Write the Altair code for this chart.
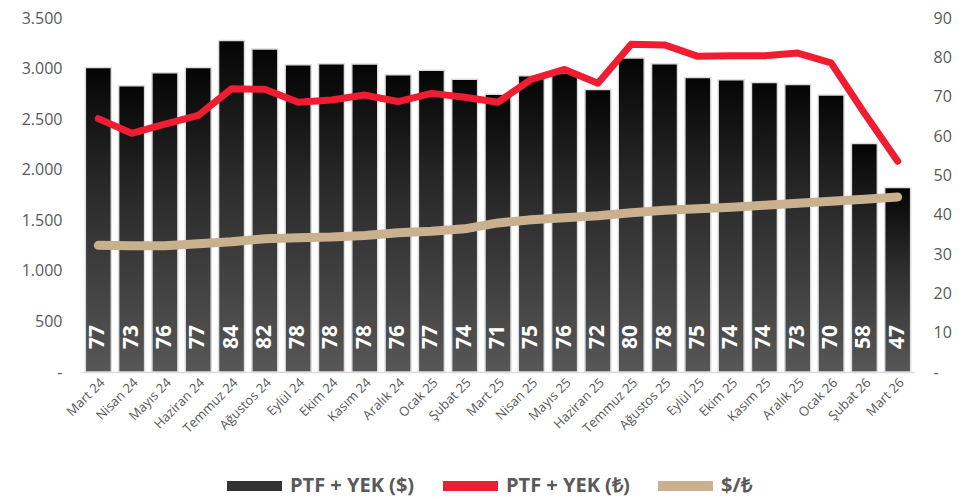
import altair as alt
import pandas as pd

months = ["Mart 24", "Nisan 24", "Mayıs 24", "Haziran 24", "Temmuz 24", "Ağustos 24",
          "Eylül 24", "Ekim 24", "Kasım 24", "Aralık 24", "Ocak 25", "Şubat 25",
          "Mart 25", "Nisan 25", "Mayıs 25", "Haziran 25", "Temmuz 25", "Ağustos 25",
          "Eylül 25", "Ekim 25", "Kasım 25", "Aralık 25", "Ocak 26", "Şubat 26", "Mart 26"]

ptf_usd = [77.4, 72.8, 76.1, 77.4, 84.3, 82.1, 78.1, 78.4, 78.3, 75.6, 76.7, 74.4,
           70.6, 75.3, 76.1, 71.8, 79.8, 78.4, 74.9, 74.3, 73.6, 73.1, 70.4, 58.1, 46.9]

ptf_tl = [2505, 2360, 2450, 2537, 2800, 2795, 2667, 2690, 2738, 2674, 2755, 2716,
          2667, 2894, 2991, 2855, 3240, 3234, 3121, 3127, 3127, 3153, 3056, 2560, 2084]

usd_try = [32.2, 32.1, 32.1, 32.6, 33.1, 33.9, 34.1, 34.3, 34.7, 35.4, 35.8, 36.4,
           37.9, 38.7, 39.2, 39.7, 40.5, 41.1, 41.5, 41.9, 42.4, 42.9, 43.4, 43.9, 44.5]

series = ["PTF + YEK ($)", "PTF + YEK (₺)", "$/₺"]
series_colors = ["#333333", "#ee1d32", "#c9b18f"]

df = pd.DataFrame({
    "month": months,
    "usd": ptf_usd,
    "tl": ptf_tl,
    "rate": usd_try,
    "s_tl": series[1],
    "s_rate": series[2],
})

FONT = "Open Sans"
GRAY = "#595959"

x_enc = alt.X("month:N", sort=months, title=None,
              scale=alt.Scale(paddingInner=0.22, paddingOuter=0.1),
              axis=alt.Axis(labelAngle=-45, labelFontSize=13, labelColor=GRAY, labelFont=FONT,
                            ticks=False, domainColor="#d9d9d9", domainWidth=1.5, labelPadding=4))

right_scale = alt.Scale(domain=[0, 90], nice=False)


def right_axis():
    return alt.Axis(orient="right", values=list(range(0, 91, 10)), grid=False, ticks=False,
                    domain=False, labelFontSize=16, labelColor=GRAY, labelFont=FONT,
                    labelPadding=19, labelOverlap=False,
                    labelExpr="datum.value === 0 ? '-' : datum.label")


color_scale = alt.Scale(domain=series, range=series_colors)
legend = alt.Legend(
    orient="none", legendX=140, legendY=458, direction="horizontal", columns=3,
    title=None, labelFontSize=20, labelFontWeight="bold", labelColor=GRAY, labelFont=FONT,
    symbolType="M-1,0L10,0", symbolSize=100, labelOffset=48, columnPadding=8,
    symbolOpacity=1, symbolStrokeWidth=10,
)

gradient = alt.Gradient(
    gradient="linear", x1=0, y1=0, x2=0, y2=1,
    stops=[alt.GradientStop(offset=0, color="#050505"),
           alt.GradientStop(offset=0.4, color="#2a2a2a"),
           alt.GradientStop(offset=1, color="#575757")],
)

base = alt.Chart(df)

bars = base.mark_bar(fill=gradient, stroke="#dedede", strokeWidth=1.5).encode(
    x=x_enc,
    y=alt.Y("usd:Q", scale=right_scale, axis=right_axis(), title=None),
)

labels = base.mark_text(angle=270, align="left", baseline="middle", dx=23, fontSize=21,
                        fontWeight="bold", color="white", font=FONT).encode(
    x=x_enc,
    y=alt.YDatum(0, axis=right_axis(), title=None),
    text=alt.Text("usd:Q", format=".0f"),
)

tan = base.mark_line(strokeWidth=9, strokeCap="round", strokeJoin="round").encode(
    x=x_enc,
    y=alt.Y("rate:Q", axis=right_axis(), title=None),
    color=alt.Color("s_rate:N", scale=color_scale, legend=legend, title=None),
)

right_layer = alt.layer(bars, labels, tan)

red = base.mark_line(strokeWidth=7, strokeCap="round", strokeJoin="round").encode(
    x=x_enc,
    y=alt.Y("tl:Q", title=None,
            scale=alt.Scale(domain=[0, 3500], nice=False),
            axis=alt.Axis(orient="left", values=list(range(0, 3501, 500)), ticks=False,
                          domain=False, gridColor="#e8e8e8", gridWidth=1.2, labelOverlap=False,
                          labelFontSize=16, labelColor=GRAY, labelFont=FONT, labelPadding=20,
                          labelExpr="datum.value === 0 ? '-' : replace(format(datum.value, ','), ',', '.')")),
    color=alt.Color("s_tl:N", scale=color_scale, legend=legend, title=None),
)

chart = alt.layer(right_layer, red).resolve_scale(y="independent").properties(
    width=832, height=354,
    autosize="none",
    padding={"left": 74, "top": 10, "right": 52, "bottom": 126},
).configure_view(stroke=None)

chart.save("out.html", embed_options={"renderer": "svg", "actions": False})
